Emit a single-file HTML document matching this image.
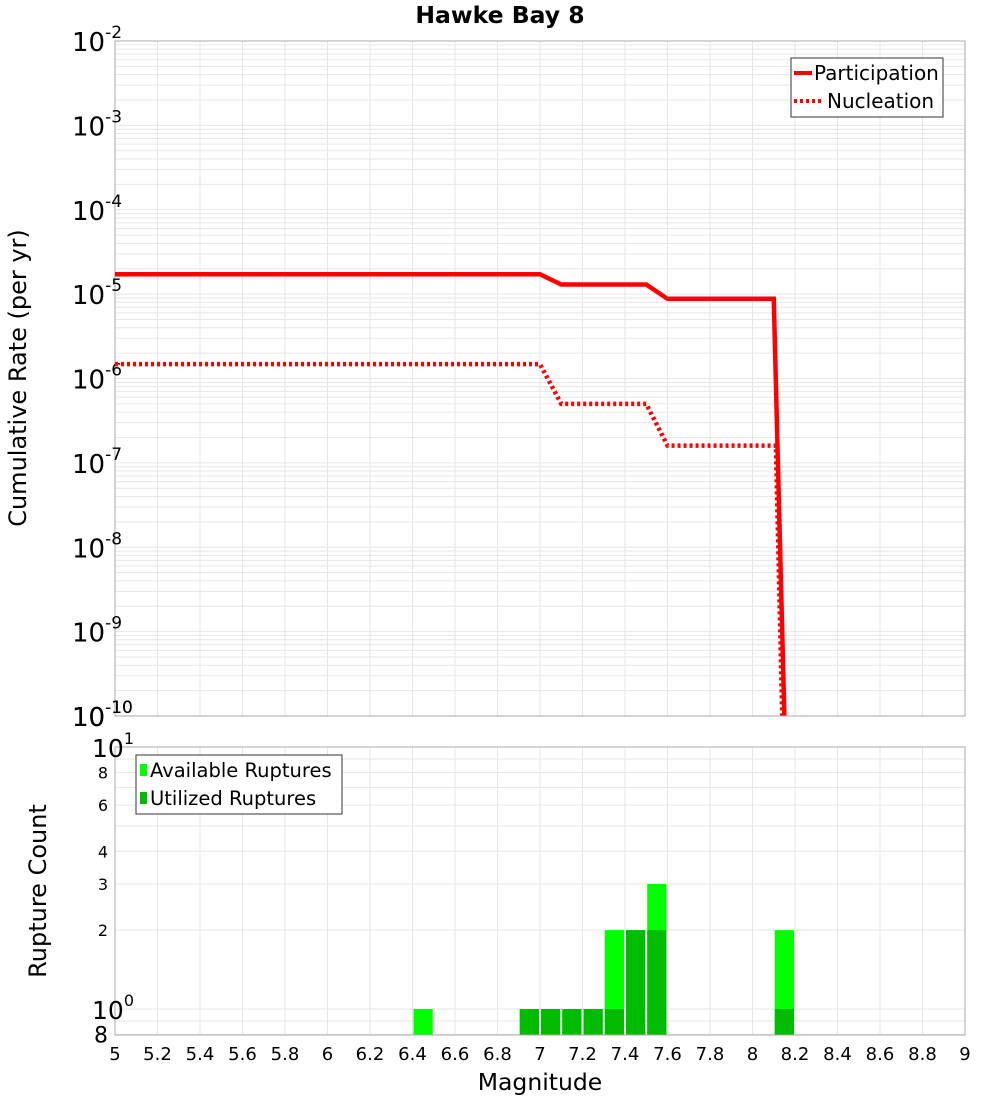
<!DOCTYPE html>
<html><head><meta charset="utf-8"><style>
body{margin:0;background:#fff;font-family:"DejaVu Sans","Liberation Sans",sans-serif}
</style></head><body>
<svg id="c" width="1000" height="1100" xmlns="http://www.w3.org/2000/svg" font-family="DejaVu Sans, Liberation Sans, sans-serif"></svg>
<script>
const xTicks=[5,5.2,5.4,5.6,5.8,6,6.2,6.4,6.6,6.8,7,7.2,7.4,7.6,7.8,8,8.2,8.4,8.6,8.8,9];
const topExps=[-2,-3,-4,-5,-6,-7,-8,-9,-10];
const partMag=[5,7.0,7.1,7.5,7.6,8.1,8.15];
const partRate=[1.72e-5,1.72e-5,1.3e-5,1.3e-5,8.8e-6,8.8e-6,1e-10];
const nuclMag=[5,7.0,7.1,7.5,7.6,8.11,8.14];
const nuclRate=[1.48e-6,1.48e-6,5e-7,5e-7,1.6e-7,1.6e-7,1e-10];
const binStart=[6.4,6.9,7.0,7.1,7.2,7.3,7.4,7.5,8.1];
const availCount=[1,1,1,1,1,2,2,3,2];
const usedCount=[0,1,1,1,1,1,2,2,1];
const botTickVals=[8,6,4,3,2];

const S=document.getElementById('c'),NS='http://www.w3.org/2000/svg';
function el(t,a,p){const e=document.createElementNS(NS,t);for(const k in a)e.setAttribute(k,a[k]);(p||S).appendChild(e);return e;}
const L=115,R=965,T1=41,B1=716,T2=747,B2=1035;
const X=m=>L+(m-5)/4*(R-L);
const Y1=v=>T1+(-2-Math.log10(v))*(B1-T1)/8;
const Y2=v=>1009-Math.log10(v)*262;

let t=el('text',{x:500,y:23,'text-anchor':'middle','font-size':23.5,'font-weight':'bold'});t.textContent='Hawke Bay 8';


const g1=el('g',{});
for(let e=-10;e<-2;e++)for(let k=1;k<10;k++){const y=Y1(k*Math.pow(10,e));el('line',{x1:L,x2:R,y1:y,y2:y,stroke:'#e6e6e6','stroke-width':1},g1);}
xTicks.forEach(m=>el('line',{x1:X(m),x2:X(m),y1:T1,y2:B1,stroke:'#e6e6e6'},g1));
el('rect',{x:L,y:T1,width:R-L,height:B1-T1,fill:'none',stroke:'#aaa'});

topExps.forEach(e=>{const y=Y1(Math.pow(10,e));const tx=el('text',{x:72,y:y+10,'font-size':26});
 
 tx.textContent='10';const s=el('tspan',{dy:-13,'font-size':17},tx);s.textContent=String(e);});
t=el('text',{transform:'translate(26,378) rotate(-90)','text-anchor':'middle','font-size':24});t.textContent='Cumulative Rate (per yr)';


function pts(ms,vs){return ms.map((m,i)=>X(m)+','+Y1(vs[i])).join(' ');}
let p=el('polyline',{points:pts(partMag,partRate),fill:'none',stroke:'#f00','stroke-width':4.5});

p=el('polyline',{points:pts(nuclMag,nuclRate),fill:'none',stroke:'#f00','stroke-width':4.5,'stroke-dasharray':'3,3'});

el('rect',{x:L+1,y:B1+1,width:R-L,height:30,fill:'#fff'});
el('line',{x1:L,x2:R,y1:B1,y2:B1,stroke:'#aaa'});
{const tx=el('text',{x:72,y:B1+10,'font-size':26});tx.textContent='10';const s=el('tspan',{dy:-13,'font-size':17},tx);s.textContent='-10';
}

const lg=el('g',{});
el('rect',{x:791,y:58,width:152,height:59,fill:'#fff',stroke:'#333'},lg);
el('line',{x1:794,x2:812,y1:73,y2:73,stroke:'#f00','stroke-width':4},lg);
el('line',{x1:794,x2:822,y1:101,y2:101,stroke:'#f00','stroke-width':4,'stroke-dasharray':'3,3'},lg);
t=el('text',{x:814,y:80,'font-size':20},lg);t.textContent='Participation';
t=el('text',{x:827,y:108,'font-size':20},lg);t.textContent='Nucleation';

const g2=el('g',{});
[0.8,0.9,1,2,3,4,5,6,7,8,9,10].forEach(v=>{const y=Y2(v);el('line',{x1:L,x2:R,y1:y,y2:y,stroke:'#e6e6e6'},g2);});
xTicks.forEach(m=>el('line',{x1:X(m),x2:X(m),y1:T2,y2:B2,stroke:'#e6e6e6'},g2));

binStart.forEach((m,i)=>{const x0=X(m)+1,w=X(m+0.1)-X(m)-2;
 let r=el('rect',{x:x0,y:Y2(availCount[i]),width:w,height:B2-Y2(availCount[i]),fill:'#00ff00'});
 
 if(usedCount[i]>0){r=el('rect',{x:x0,y:Y2(usedCount[i]),width:w,height:B2-Y2(usedCount[i]),fill:'#00bb00'});
 }});
el('rect',{x:L,y:T2,width:R-L,height:B2-T2,fill:'none',stroke:'#aaa'});

[[10,'1'],[1,'0']].forEach(([v,e])=>{const tx=el('text',{x:92,y:Y2(v)+10,'font-size':25});tx.textContent='10';
 const s=el('tspan',{dy:-13,'font-size':16},tx);s.textContent=e;
 });
botTickVals.forEach(v=>{const tx=el('text',{x:108,y:Y2(v)+6,'font-size':16,'text-anchor':'end'});tx.textContent=v;
 });
t=el('text',{x:108,y:Y2(0.8)+8,'font-size':22,'text-anchor':'end'});t.textContent='8';
t=el('text',{transform:'translate(46,891) rotate(-90)','text-anchor':'middle','font-size':24});t.textContent='Rupture Count';


const lg2=el('g',{});
el('rect',{x:136,y:755,width:206,height:59,fill:'#fff',stroke:'#333'},lg2);
el('rect',{x:140,y:764,width:7,height:12,fill:'#00ff00'},lg2);
el('rect',{x:140,y:792,width:7,height:12,fill:'#00bb00'},lg2);
t=el('text',{x:150,y:777,'font-size':19.5},lg2);t.textContent='Available Ruptures';
t=el('text',{x:150,y:805,'font-size':19.5},lg2);t.textContent='Utilized Ruptures';

xTicks.forEach(m=>{const tx=el('text',{x:X(m),y:1060,'font-size':18,'text-anchor':'middle'});tx.textContent=String(m);
 });
t=el('text',{x:540,y:1090,'font-size':23.5,'text-anchor':'middle'});t.textContent='Magnitude';

</script>
</body></html>
